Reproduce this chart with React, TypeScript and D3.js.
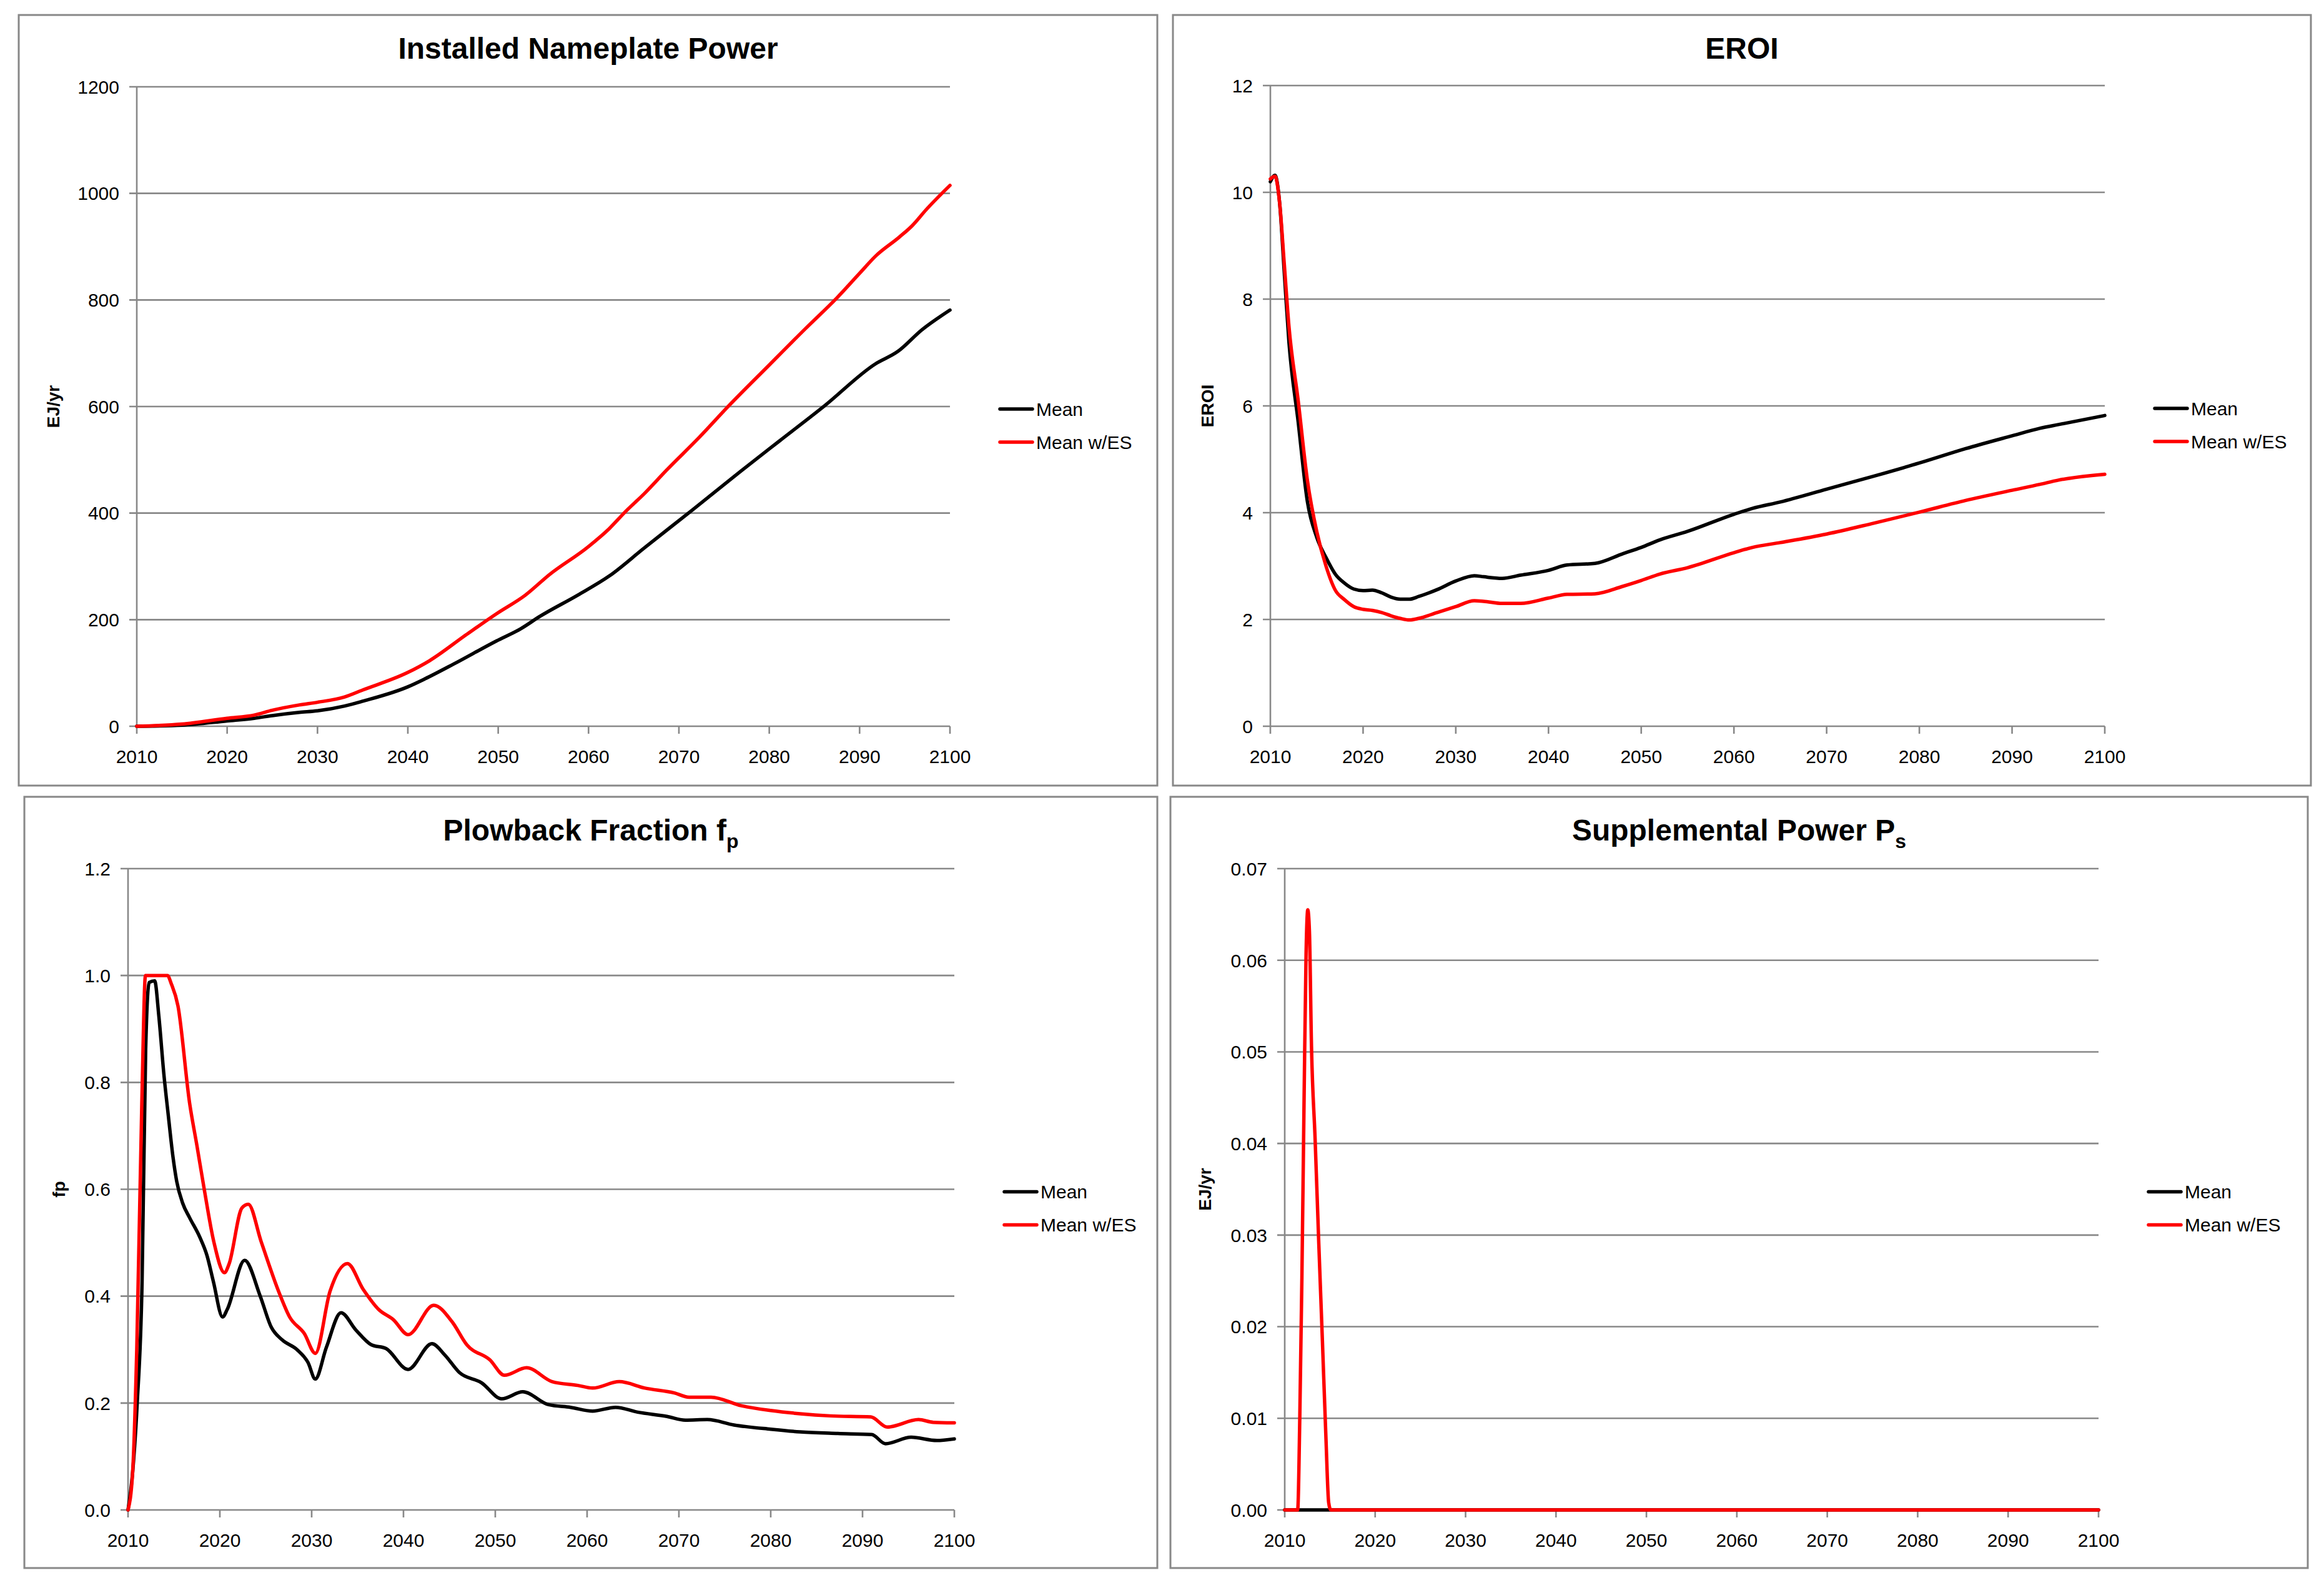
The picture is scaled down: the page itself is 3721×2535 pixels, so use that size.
import * as d3 from "d3";

// ---- data ----

const X_TICKS = [2010, 2020, 2030, 2040, 2050, 2060, 2070, 2080, 2090, 2100];
const LEGEND_LABELS = ["Mean", "Mean w/ES"];

// Installed Nameplate Power (EJ/yr)
const POWER_MEAN_YEARS = [2010, 2015, 2020, 2023, 2025, 2028, 2030, 2033, 2035, 2040, 2041.9, 2045.1, 2049.8, 2052.5, 2054.6, 2058.8, 2062.3, 2066.2, 2071.5, 2076.8, 2081.1, 2086.1, 2091.75, 2094.2, 2096.9, 2100];
const POWER_MEAN = [0, 2, 10, 15, 20, 26, 29, 38, 47, 74, 89, 117, 160, 183, 206, 246, 282, 335, 406, 478, 535, 601, 680, 703, 744, 781];
const POWER_ES_YEARS = [2010, 2015, 2020, 2023, 2025, 2028, 2030, 2033, 2035, 2040, 2042.4, 2046.4, 2049.8, 2053, 2055.7, 2059.9, 2062.3, 2064.1, 2066.2, 2068.6, 2072.3, 2075.5, 2080, 2084, 2087.5, 2090, 2091.75, 2094.4, 2095.8, 2097.4, 2100];
const POWER_ES = [0, 4, 15, 21, 30, 40, 45, 55, 68, 101, 123, 171, 211, 246, 285, 336, 371, 403, 437, 480, 543, 601, 678, 746, 804, 850, 882, 918, 939, 970, 1015];
const POWER_TICKS = [0, 200, 400, 600, 800, 1000, 1200];

// EROI
const EROI_YEARS = [2010, 2010.5, 2011, 2011.5, 2012, 2013, 2014, 2015, 2016, 2017, 2018, 2019, 2020, 2021, 2022, 2023, 2024, 2025, 2026, 2028, 2030, 2032, 2033, 2035, 2037, 2040, 2042, 2045, 2048, 2050, 2052, 2055, 2060, 2062, 2065, 2070, 2075, 2080, 2085, 2090, 2093, 2095, 2100];
const EROI_MEAN = [10.2, 10.32, 9.8, 8.5, 7.2, 5.7, 4.2, 3.54, 3.16, 2.85, 2.68, 2.57, 2.54, 2.55, 2.5, 2.42, 2.38, 2.38, 2.43, 2.56, 2.72, 2.82, 2.8, 2.77, 2.83, 2.92, 3.02, 3.05, 3.23, 3.35, 3.49, 3.65, 3.97, 4.08, 4.2, 4.44, 4.68, 4.93, 5.2, 5.44, 5.58, 5.65, 5.82];
const EROI_ES = [10.25, 10.3, 9.8, 8.66, 7.5, 6.1, 4.6, 3.65, 3.0, 2.55, 2.37, 2.24, 2.19, 2.17, 2.13, 2.07, 2.02, 1.99, 2.02, 2.13, 2.24, 2.35, 2.34, 2.3, 2.3, 2.4, 2.47, 2.48, 2.62, 2.73, 2.85, 2.97, 3.25, 3.35, 3.44, 3.6, 3.8, 4.01, 4.23, 4.42, 4.53, 4.61, 4.72];
const EROI_TICKS = [0, 2, 4, 6, 8, 10, 12];

// Plowback fraction fp
const FP_MEAN_YEARS = [2010, 2010.5, 2011, 2011.53, 2011.92, 2012.3, 2012.9, 2013.35, 2013.9, 2014.4, 2014.9, 2015.3, 2015.95, 2016.7, 2017.8, 2018.6, 2019.3, 2020.3, 2020.8, 2022.7, 2024.4, 2025.6, 2026.8, 2028.4, 2029.6, 2030.4, 2031.6, 2033.2, 2034.8, 2036.5, 2038.1, 2040.5, 2043.1, 2044.5, 2046.1, 2048.5, 2050.7, 2053, 2055.8, 2058.2, 2060.6, 2063.1, 2065.5, 2068.7, 2070.7, 2073.1, 2076, 2080, 2083.2, 2087.3, 2091, 2092.5, 2095.3, 2098.1, 2100];
const FP_MEAN = [0, 0.07, 0.2, 0.427, 0.861, 0.987, 0.99, 0.925, 0.816, 0.736, 0.66, 0.615, 0.574, 0.547, 0.511, 0.476, 0.427, 0.361, 0.375, 0.467, 0.4, 0.342, 0.318, 0.3, 0.276, 0.245, 0.304, 0.369, 0.337, 0.309, 0.302, 0.263, 0.311, 0.29, 0.257, 0.238, 0.208, 0.221, 0.197, 0.192, 0.185, 0.192, 0.183, 0.175, 0.168, 0.169, 0.159, 0.151, 0.146, 0.143, 0.141, 0.124, 0.136, 0.13, 0.133];
const FP_ES_YEARS = [2010, 2010.5, 2010.95, 2011.5, 2011.9, 2012.4, 2013.5, 2014.3, 2014.7, 2015.44, 2016.7, 2017.5, 2018.3, 2019.34, 2020.5, 2021, 2022.4, 2023.1, 2024.5, 2026.4, 2027.6, 2029.2, 2030.4, 2032, 2033.9, 2035.6, 2037.3, 2038.9, 2040.5, 2043.3, 2045.3, 2046.9, 2049.4, 2051, 2053.4, 2056.2, 2059, 2060.6, 2063.5, 2066.3, 2069.5, 2071.1, 2073.5, 2076.8, 2080, 2083.2, 2086.5, 2090.9, 2092.7, 2096.1, 2097.7, 2100];
const FP_ES = [0, 0.07, 0.3, 0.76, 1.0, 1.0, 1.0, 1.0, 0.985, 0.943, 0.762, 0.682, 0.6, 0.502, 0.444, 0.46, 0.565, 0.572, 0.502, 0.409, 0.361, 0.33, 0.293, 0.409, 0.461, 0.413, 0.375, 0.356, 0.328, 0.383, 0.352, 0.309, 0.281, 0.252, 0.266, 0.24, 0.233, 0.228, 0.24, 0.228, 0.219, 0.211, 0.211, 0.195, 0.186, 0.18, 0.176, 0.174, 0.155, 0.169, 0.164, 0.163];
const FP_TICKS = [0, 0.2, 0.4, 0.6, 0.8, 1.0, 1.2];

// Supplemental power Ps (EJ/yr)
const PS_MEAN_YEARS = [2010, 2100];
const PS_MEAN = [0, 0];
const PS_ES_YEARS = [2010, 2011.43, 2011.67, 2011.9, 2012.15, 2012.36, 2012.55, 2012.73, 2012.96, 2013.36, 2013.77, 2014.17, 2014.56, 2014.86, 2015.1, 2100];
const PS_ES = [0, 0, 0.0103, 0.0254, 0.0456, 0.0607, 0.0655, 0.0632, 0.0506, 0.0405, 0.029, 0.0184, 0.0078, 0.0008, 0, 0];
const PS_TICKS = [0, 0.01, 0.02, 0.03, 0.04, 0.05, 0.06, 0.07];

// ---- drawing ----

const FONT = "'Liberation Sans', Arial, Helvetica, sans-serif";
const GRAY = "#888888";
const COLORS = ["#000000", "#ff0000"];

interface Series {
  years: number[];
  values: number[];
}

interface PanelProps {
  box: [number, number, number, number]; // x0, y0, x1, y1
  plot: [number, number, number, number];
  title: string;
  sub?: string;
  yLabel: string;
  yTicks: number[];
  yFormat: (v: number) => string;
  series: Series[];
}

function Panel({ box, plot, title, sub, yLabel, yTicks, yFormat, series }: PanelProps) {
  const [bx0, by0, bx1, by1] = box;
  const [px0, py0, px1, py1] = plot;
  const x = d3.scaleLinear().domain([2010, 2100]).range([px0, px1]);
  const y = d3.scaleLinear().domain([0, yTicks[yTicks.length - 1]]).range([py1, py0]);
  const cx = (bx0 + bx1) / 2;
  const cy = (py0 + py1) / 2;
  const legX = px1 + 80;
  const legY = cy + 4;

  return (
    <g>
      <rect x={bx0} y={by0} width={bx1 - bx0} height={by1 - by0} fill="white" stroke={GRAY} strokeWidth={3} />
      <text x={cx} y={by0 + 70} textAnchor="middle" fontFamily={FONT} fontWeight="bold" fontSize={48}>
        {title}
        {sub && (
          <tspan fontSize={32} dy={12}>
            {sub}
          </tspan>
        )}
      </text>
      <text
        transform={`translate(${bx0 + 55},${cy}) rotate(-90)`}
        textAnchor="middle"
        dominantBaseline="central"
        fontFamily={FONT}
        fontWeight="bold"
        fontSize={28}
      >
        {yLabel}
      </text>

      {yTicks.map((t) => (
        <g key={"y" + t}>
          <line x1={px0 - 12} x2={px1} y1={y(t)} y2={y(t)} stroke={GRAY} strokeWidth={2.6} />
          <text x={px0 - 28} y={y(t)} dy="0.36em" textAnchor="end" fontFamily={FONT} fontSize={30}>
            {yFormat(t)}
          </text>
        </g>
      ))}
      <line x1={px0} x2={px0} y1={py0} y2={py1} stroke={GRAY} strokeWidth={2.6} />
      {X_TICKS.map((t) => (
        <g key={"x" + t}>
          <line x1={x(t)} x2={x(t)} y1={py1} y2={py1 + 12} stroke={GRAY} strokeWidth={2.6} />
          <text x={x(t)} y={py1 + 48} dy="0.36em" textAnchor="middle" fontFamily={FONT} fontSize={30}>
            {t}
          </text>
        </g>
      ))}

      {series.map((s, i) => {
        const line = d3
          .line<number>()
          .x((_, j) => x(s.years[j]))
          .y((d) => y(d))
          .curve(d3.curveMonotoneX);
        return (
          <path
            key={"s" + i}
            d={line(s.values) ?? ""}
            fill="none"
            stroke={COLORS[i]}
            strokeWidth={5.5}
            strokeLinejoin="round"
            strokeLinecap="round"
          />
        );
      })}

      {LEGEND_LABELS.map((name, i) => (
        <g key={name}>
          <line x1={legX} x2={legX + 52} y1={legY + i * 53} y2={legY + i * 53} stroke={COLORS[i]} strokeWidth={5.5} strokeLinecap="round" />
          <text x={legX + 58} y={legY + i * 53} dy="0.36em" fontFamily={FONT} fontSize={30}>
            {name}
          </text>
        </g>
      ))}
    </g>
  );
}

export default function App() {
  return (
    <svg
      width={3721}
      height={2535}
      viewBox="0 0 3721 2535"
      style={{ position: "absolute", left: 0, top: 0, background: "white" }}
    >
      <rect width={3721} height={2535} fill="white" />
      <Panel
        box={[30, 24, 1853, 1258]}
        plot={[219, 139, 1521, 1163]}
        title="Installed Nameplate Power"
        yLabel="EJ/yr"
        yTicks={POWER_TICKS}
        yFormat={d3.format("d")}
        series={[
          { years: POWER_MEAN_YEARS, values: POWER_MEAN },
          { years: POWER_ES_YEARS, values: POWER_ES },
        ]}
      />
      <Panel
        box={[1878, 24, 3700, 1258]}
        plot={[2034, 137, 3370, 1163]}
        title="EROI"
        yLabel="EROI"
        yTicks={EROI_TICKS}
        yFormat={d3.format("d")}
        series={[
          { years: EROI_YEARS, values: EROI_MEAN },
          { years: EROI_YEARS, values: EROI_ES },
        ]}
      />
      <Panel
        box={[39, 1276, 1853, 2511]}
        plot={[205, 1391, 1528, 2418]}
        title="Plowback Fraction f"
        sub="p"
        yLabel="fp"
        yTicks={FP_TICKS}
        yFormat={d3.format(".1f")}
        series={[
          { years: FP_MEAN_YEARS, values: FP_MEAN },
          { years: FP_ES_YEARS, values: FP_ES },
        ]}
      />
      <Panel
        box={[1874, 1276, 3695, 2511]}
        plot={[2057, 1391, 3360, 2418]}
        title="Supplemental Power P"
        sub="s"
        yLabel="EJ/yr"
        yTicks={PS_TICKS}
        yFormat={d3.format(".2f")}
        series={[
          { years: PS_MEAN_YEARS, values: PS_MEAN },
          { years: PS_ES_YEARS, values: PS_ES },
        ]}
      />
    </svg>
  );
}
